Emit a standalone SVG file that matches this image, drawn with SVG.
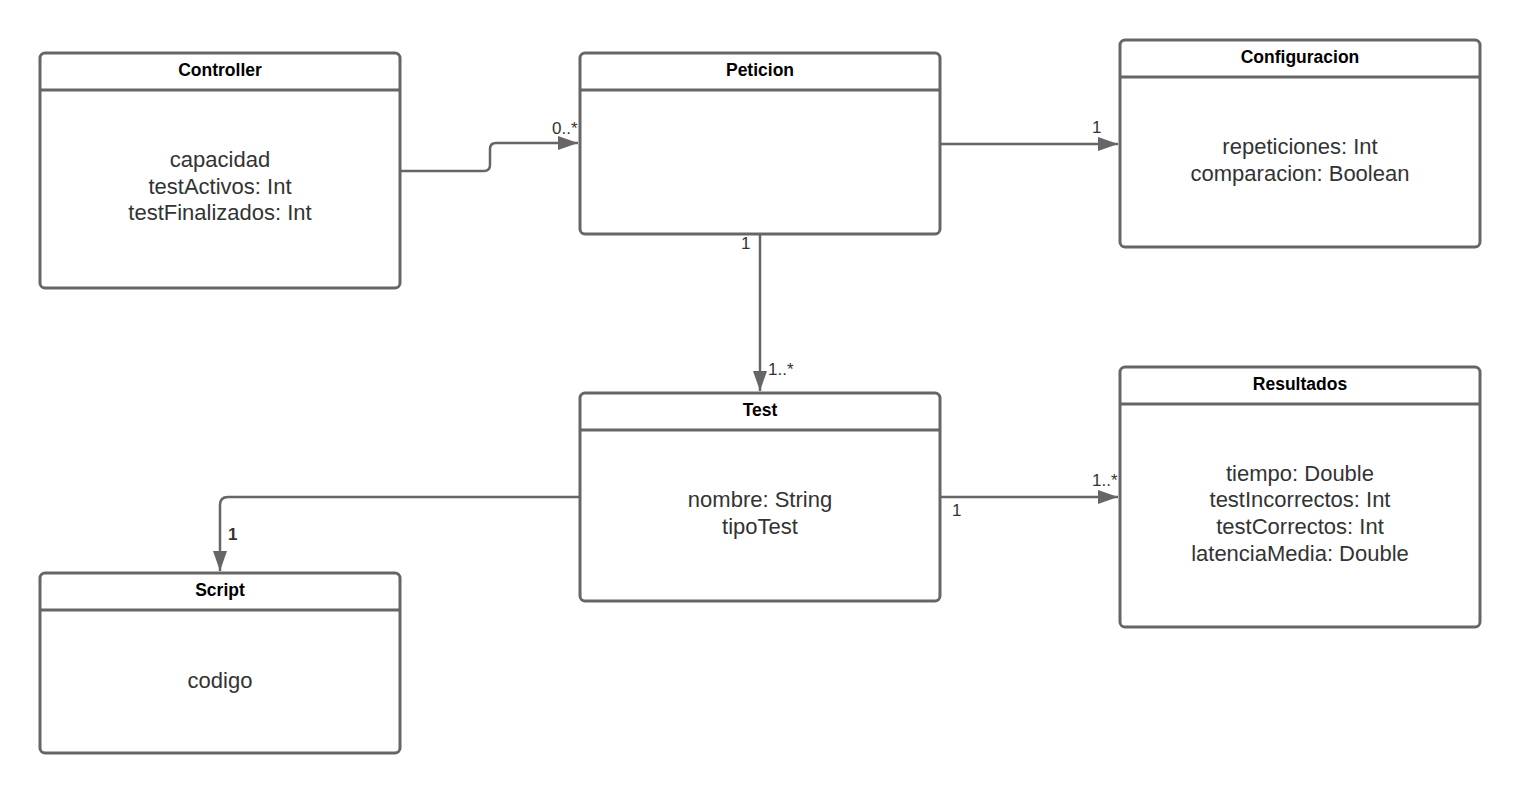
<svg xmlns="http://www.w3.org/2000/svg" width="1520" height="795" viewBox="0 0 1520 795">
<defs>
<style>
.box{fill:#fff;stroke:#666;stroke-width:3}
.sep{stroke:#666;stroke-width:3}
.title{font-family:"Liberation Sans",Arial,sans-serif;font-size:17.5px;font-weight:bold;fill:#000;text-anchor:middle}
.attr{font-family:"Liberation Sans",Arial,sans-serif;font-size:22px;fill:#333;text-anchor:middle}
.edge{fill:none;stroke:#666;stroke-width:2.5}
.lbl{font-family:"Liberation Sans",Arial,sans-serif;font-size:17px;fill:#333}
</style>
<marker id="arr" markerWidth="20" markerHeight="14" refX="20" refY="7" orient="auto" markerUnits="userSpaceOnUse">
<path d="M0,0 L20,7 L0,14 Z" fill="#666"/>
</marker>
</defs>
<rect width="1520" height="795" fill="#fff"/>
<g id="controller">
<rect class="box" x="40" y="53" width="360" height="235" rx="5"/>
<line class="sep" x1="40" y1="90" x2="400" y2="90"/>
<text class="title" x="220" y="76">Controller</text>
<text class="attr" x="220" y="167">capacidad</text>
<text class="attr" x="220" y="194">testActivos: Int</text>
<text class="attr" x="220" y="220">testFinalizados: Int</text>
</g>
<g id="peticion">
<rect class="box" x="580" y="53" width="360" height="181" rx="5"/>
<line class="sep" x1="580" y1="90" x2="940" y2="90"/>
<text class="title" x="760" y="76">Peticion</text>
</g>
<g id="configuracion">
<rect class="box" x="1120" y="40" width="360" height="207" rx="5"/>
<line class="sep" x1="1120" y1="77" x2="1480" y2="77"/>
<text class="title" x="1300" y="63">Configuracion</text>
<text class="attr" x="1300" y="154">repeticiones: Int</text>
<text class="attr" x="1300" y="181">comparacion: Boolean</text>
</g>
<g id="test">
<rect class="box" x="580" y="393" width="360" height="208" rx="5"/>
<line class="sep" x1="580" y1="430" x2="940" y2="430"/>
<text class="title" x="760" y="416">Test</text>
<text class="attr" x="760" y="507">nombre: String</text>
<text class="attr" x="760" y="534">tipoTest</text>
</g>
<g id="resultados">
<rect class="box" x="1120" y="367" width="360" height="260" rx="5"/>
<line class="sep" x1="1120" y1="404" x2="1480" y2="404"/>
<text class="title" x="1300" y="390">Resultados</text>
<text class="attr" x="1300" y="481">tiempo: Double</text>
<text class="attr" x="1300" y="507">testIncorrectos: Int</text>
<text class="attr" x="1300" y="534">testCorrectos: Int</text>
<text class="attr" x="1300" y="561">latenciaMedia: Double</text>
</g>
<g id="script">
<rect class="box" x="40" y="573" width="360" height="180" rx="5"/>
<line class="sep" x1="40" y1="610" x2="400" y2="610"/>
<text class="title" x="220" y="596">Script</text>
<text class="attr" x="220" y="688">codigo</text>
</g>
<g id="connectors">
<path class="edge" d="M401,171 H484 Q490,171 490,165 V149 Q490,143 496,143 H578" marker-end="url(#arr)"/>
<path class="edge" d="M941,144 H1118" marker-end="url(#arr)"/>
<path class="edge" d="M760,235 V391" marker-end="url(#arr)"/>
<path class="edge" d="M579,497 H228 Q220,497 220,505 V571" marker-end="url(#arr)"/>
<path class="edge" d="M941,497 H1118" marker-end="url(#arr)"/>
<text class="lbl" x="552" y="134">0..*</text>
<text class="lbl" x="1092" y="133">1</text>
<text class="lbl" x="741" y="249">1</text>
<text class="lbl" x="768" y="375">1..*</text>
<text class="lbl" x="228" y="540" font-weight="bold">1</text>
<text class="lbl" x="952" y="516">1</text>
<text class="lbl" x="1092" y="486">1..*</text>
</g>
</svg>
